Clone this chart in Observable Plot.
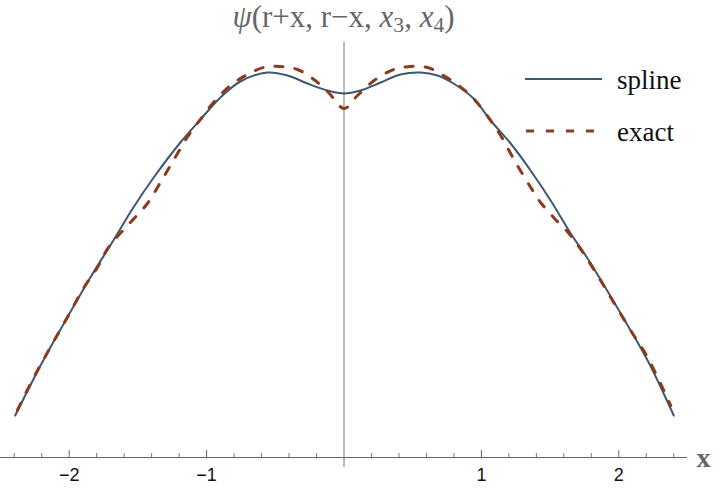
<!DOCTYPE html>
<html>
<head>
<meta charset="utf-8">
<script src="https://cdn.jsdelivr.net/npm/d3@7"></script>
<script src="https://cdn.jsdelivr.net/npm/@observablehq/plot@0.6"></script>
<style>
  body { margin: 0; background: #fff; }
  #wrap { position: relative; width: 720px; height: 490px; overflow: hidden; }
  #title { position: absolute; left: 0; top: 1px; width: 687px; text-align: center;
    font-family: "Liberation Serif", serif; font-size: 31px; line-height: 31px; color: #666; white-space: nowrap; }
  #title sub { font-size: 0.7em; line-height: 0; vertical-align: -0.25em; }
  #chart { position: absolute; left: 0; top: 40px; }
  .leg { position: absolute; font-family: "Liberation Serif", serif; font-size: 27px; line-height: 27px; color: #111; }
  .legsvg { position: absolute; }
</style>
</head>
<body>
<div id="wrap">
  <div id="title"><i>ψ</i>(r+x, r−x, <i>x</i><sub>3</sub>, <i>x</i><sub>4</sub>)</div>
  <div id="chart"></div>
  <svg class="legsvg" style="left:520px;top:70px" width="90" height="70">
    <line x1="5" x2="82" y1="9" y2="9" stroke="#3c5873" stroke-width="2"/>
    <line x1="6" x2="74" y1="61" y2="61" stroke="#8c3a1c" stroke-width="3" stroke-dasharray="8,12"/>
  </svg>
  <div class="leg" style="left:617px;top:67px">spline</div>
  <div class="leg" style="left:617px;top:119px">exact</div>
</div>
<script>
const splineX = [-2.393, -2.189, -2.014, -1.846, -1.679, -1.533, -1.385, -1.191, -1.045, -0.899, -0.754, -0.557, -0.411, -0.266, -0.120, 0,
  0.120, 0.266, 0.411, 0.557, 0.681, 0.797, 0.943, 1.067, 1.213, 1.358, 1.504, 1.650, 1.773, 2.014, 2.210, 2.400];
const splineY = [0.42, 0.97, 1.40, 1.80, 2.17, 2.50, 2.80, 3.15, 3.38, 3.60, 3.76, 3.85, 3.82, 3.74, 3.67, 3.64,
  3.67, 3.75, 3.83, 3.85, 3.82, 3.74, 3.59, 3.37, 3.14, 2.87, 2.57, 2.24, 1.99, 1.44, 0.97, 0.42];

const exactX = [-2.378, -2.262, -2.138, -2.014, -1.897, -1.795, -1.715, -1.555, -1.431, -1.336, -1.242, -1.118, -1.045, -0.950, -0.827, -0.703,
  -0.586, -0.462, -0.339, -0.229, -0.113, 0, 0.098, 0.229, 0.361, 0.484, 0.608, 0.725, 0.834, 0.943, 1.067, 1.140,
  1.249, 1.373, 1.431, 1.526, 1.650, 1.744, 1.868, 1.963, 2.087, 2.210, 2.378];
const exactY = [0.47, 0.79, 1.10, 1.40, 1.69, 1.90, 2.10, 2.35, 2.54, 2.75, 2.97, 3.25, 3.38, 3.55, 3.72, 3.83,
  3.90, 3.91, 3.88, 3.79, 3.65, 3.49, 3.62, 3.78, 3.88, 3.91, 3.90, 3.82, 3.72, 3.59, 3.37, 3.22,
  2.95, 2.67, 2.55, 2.40, 2.22, 2.04, 1.77, 1.55, 1.27, 1.00, 0.52];

const majorTicks = [-2, -1, 1, 2];
const minorTicks = [-2.4, -2.2, -1.8, -1.6, -1.4, -1.2, -0.8, -0.6, -0.4, -0.2, 0.2, 0.4, 0.6, 0.8, 1.2, 1.4, 1.6, 1.8, 2.2, 2.4];
const axisLabel = "x";

const spline = splineX.map((x, i) => ({x, y: splineY[i]}));
const exact = exactX.map((x, i) => ({x, y: exactY[i]}));

const chart = Plot.plot({
  width: 720, height: 450,
  marginLeft: 0, marginRight: 33, marginTop: 17, marginBottom: 33,
  x: {domain: [-2.5, 2.5], axis: null},
  y: {domain: [0, 4], axis: null},
  style: {background: "transparent", overflow: "visible"},
  marks: [
    Plot.ruleY([0], {stroke: "#666", strokeWidth: 1}),
    Plot.ruleX([0], {y1: -0.1, y2: 4.15, stroke: "#777", strokeWidth: 1}),
    Plot.ruleX(majorTicks, {x: d => d, y1: 0, y2: 0.07, stroke: "#666"}),
    Plot.ruleX(minorTicks, {x: d => d, y1: 0, y2: 0.04, stroke: "#777"}),
    Plot.axisX(majorTicks, {tickSize: 0, tickPadding: 11, fontSize: 18, fontFamily: "Liberation Sans, Arial, sans-serif", fill: "#111",
      tickFormat: d => d < 0 ? "−" + Math.abs(d) : String(d), label: null}),
    Plot.line(spline, {x: "x", y: "y", stroke: "#3c5873", strokeWidth: 2, curve: "catmull-rom"}),
    Plot.line(exact, {x: "x", y: "y", stroke: "#8c3a1c", strokeWidth: 3, strokeDasharray: "8,12", curve: "catmull-rom"}),
    Plot.text([axisLabel], {text: d => d, frameAnchor: "bottom-right", dx: 23, dy: 1, fontSize: 28,
      fontFamily: "Liberation Serif, serif", fill: "#666", fontWeight: "bold", lineAnchor: "middle"})
  ]
});
document.getElementById("chart").appendChild(chart);
</script>
</body>
</html>
